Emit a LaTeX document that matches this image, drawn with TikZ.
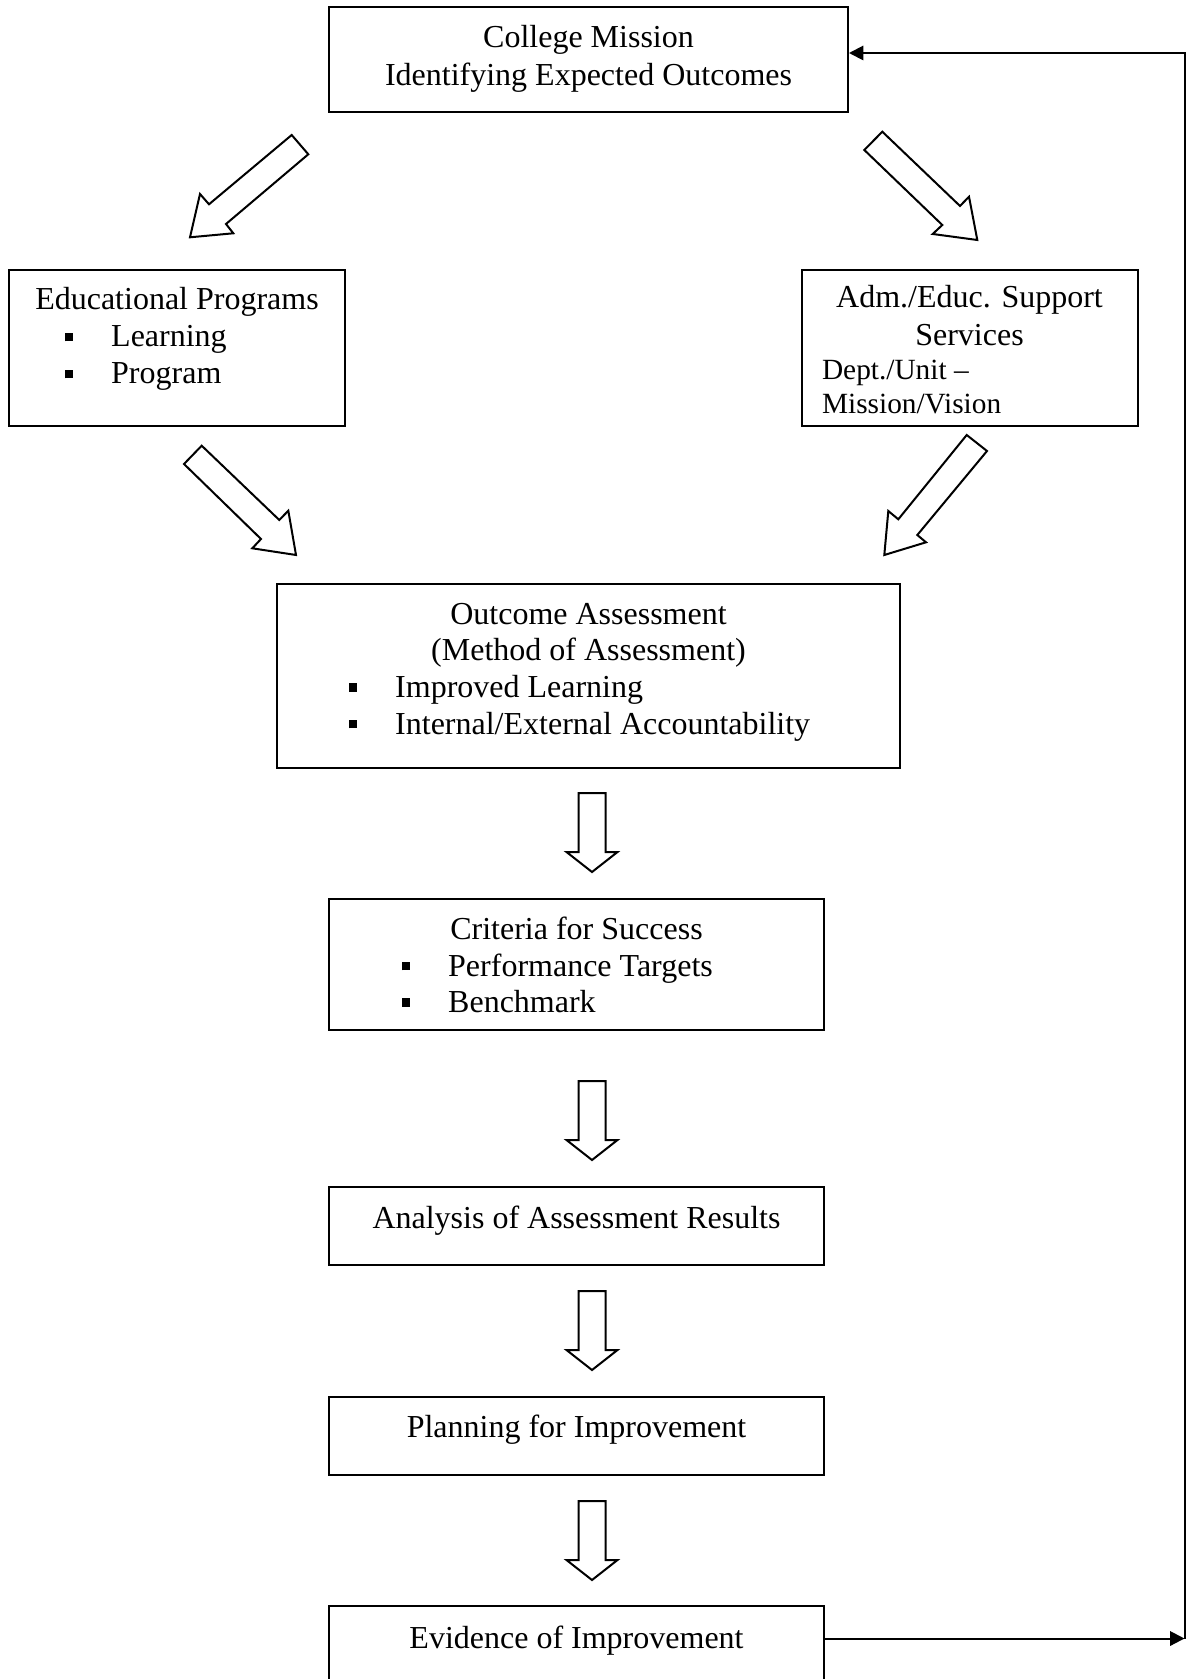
\documentclass[tikz,border=0pt]{standalone}
\usepackage{fontspec}
\setmainfont{Liberation Serif}
\usetikzlibrary{arrows.meta,fit}
\newcommand{\sqitem}{\makebox[17.5pt][l]{\raisebox{2.1pt}{\rule{3.2pt}{3.2pt}}}}

\begin{document}
\begin{tikzpicture}[x=0.375pt,y=-0.375pt,>={Triangle[length=5.4pt,width=5.4pt]},font=\fontsize{12}{14}\selectfont]
\tikzstyle{box}=[draw,line width=0.75pt,inner sep=0pt]
\tikzstyle{txt}=[anchor=base,inner sep=0pt]
\tikzstyle{lft}=[anchor=base west,inner sep=0pt]
\tikzstyle{blk}=[draw,line width=0.75pt,fill=white,line join=miter]
\tikzset{hollow/.pic={\draw[blk] (-13.5,0) -- (13.5,0) -- (13.5,59) -- (25.5,59) -- (0,79) -- (-25.5,59) -- (-13.5,59) -- cycle;}}
\useasboundingbox (0,0) rectangle (1190,1679);
\clip (0,0) rectangle (1190,1679);
% boxes
\node[box,fit={(329,7.5) (848,112.5)}] (cm) {};
\node[box,fit={(9,270) (345,426.5)}] (ep) {};
\node[box,fit={(801.5,270) (1137.5,426.5)}] (as) {};
\node[box,fit={(277,584) (900,767.5)}] (oa) {};
\node[box,fit={(329,899) (824,1030)}] (cs) {};
\node[box,fit={(329,1186.5) (824,1265)}] (ar) {};
\node[box,fit={(329,1396.5) (824,1474.5)}] (pi) {};
\node[box,fit={(329,1605.5) (824,1690)}] (ev) {};
% texts
\node[txt] (cm1) at (588.5,48) {College Mission};
\node[txt] (cm2) at (588.5,85.5) {Identifying Expected Outcomes};
\node[txt] (ep1) at (177,309.5) {Educational Programs};
\node[lft] (ep2) at (64,347) {\sqitem Learning};
\node[lft] (ep3) at (64,384) {\sqitem Program};
\node[txt] (as1) at (969.5,308) {Adm./Educ. Support};
\node[txt] (as2) at (969.5,346) {Services};
\node[lft,font=\fontsize{11}{13}\selectfont] (as3) at (821.5,380) {Dept./Unit --};
\node[lft,font=\fontsize{11}{13}\selectfont] (as4) at (821.5,414) {Mission/Vision};
\node[txt] (oa1) at (588.5,624) {Outcome Assessment};
\node[txt] (oa2) at (588.5,660) {(Method of Assessment)};
\node[lft] (oa3) at (348,697.5) {\sqitem Improved Learning};
\node[lft] (oa4) at (348,734) {\sqitem Internal/External Accountability};
\node[txt] (cs1) at (576.5,939) {Criteria for Success};
\node[lft] (cs2) at (401,976) {\sqitem Performance Targets};
\node[lft] (cs3) at (401,1012.5) {\sqitem Benchmark};
\node[txt] (ar1) at (576.5,1228) {Analysis of Assessment Results};
\node[txt] (pi1) at (576.5,1437.5) {Planning for Improvement};
\node[txt] (ev1) at (576.5,1648) {Evidence of Improvement};
% hollow block arrows
\draw[blk] (291.7,135) -- (308.3,154.3) -- (226,224) -- (233.3,233.3) -- (190,237.3) -- (200,194) -- (209,204.3) -- cycle;
\draw[blk] (882.3,131.7) -- (864.3,150) -- (942.3,225) -- (932.7,234) -- (977.3,240) -- (969,196.7) -- (960,206) -- cycle;
\draw[blk] (201.7,445.7) -- (184,464) -- (261,539) -- (252.3,548.3) -- (296,555) -- (288.3,510.7) -- (279.3,520) -- cycle;
\draw[blk] (966.7,435) -- (987,451) -- (917.3,535) -- (926,542.3) -- (884.3,555) -- (888.3,511) -- (898.3,519.3) -- cycle;
\foreach \y [count=\i] in {793,1081,1291,1501} \pic (dn\i) at (592,\y) {hollow};
% feedback loop
\coordinate (fb1) at (1184.5,1638.5);
\coordinate (fb2) at (1184.5,53);
\draw[->,line width=0.75pt] (fb1 -| ev.east) -- (fb1);
\draw[->,line width=0.75pt] (fb1) -- (fb2) -- (fb2 -| cm.east);
\end{tikzpicture}
\end{document}
